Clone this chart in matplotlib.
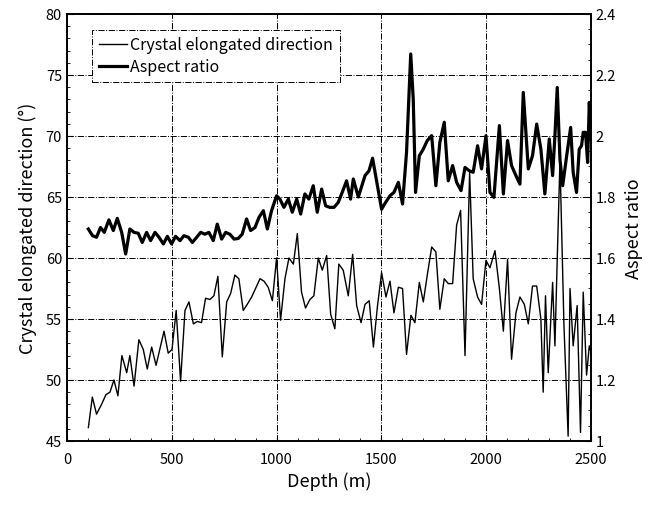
import matplotlib.pyplot as plt
from matplotlib.ticker import MultipleLocator

plt.rcParams['font.family'] = ['Noto Sans CJK JP', 'DejaVu Sans']

# Crystal elongated direction (deg) vs depth
dir_depth = [102, 121, 141, 165, 186, 205, 224, 243, 262, 285, 300, 320, 343, 364, 383, 404,
             425, 463, 483, 501, 521, 542, 563, 582, 603, 622, 642, 661, 682, 701, 720, 741,
             762, 781, 801, 820, 841, 860, 881, 921, 940, 960, 980, 1000, 1019, 1040, 1059,
             1080, 1099, 1119, 1138, 1159, 1178, 1199, 1218, 1239, 1258, 1278, 1297, 1318,
             1342, 1363, 1382, 1403, 1422, 1442, 1462, 1481, 1501, 1522, 1541, 1560, 1581,
             1601, 1620, 1641, 1660, 1681, 1700, 1719, 1740, 1760, 1779, 1800, 1819, 1840,
             1859, 1878, 1899, 1921, 1938, 1959, 1978, 1999, 2018, 2042, 2063, 2082, 2102,
             2121, 2142, 2161, 2182, 2201, 2221, 2241, 2261, 2272, 2283, 2296, 2317, 2328,
             2339, 2352, 2371, 2391, 2400, 2415, 2434, 2450, 2463, 2479, 2492, 2500]
dir_value = [46.1, 48.6, 47.2, 48.0, 48.8, 49.0, 50.0, 48.7, 52.0, 50.6, 52.0, 49.5, 53.3,
             52.5, 50.9, 52.7, 51.2, 54.0, 52.2, 52.5, 55.7, 49.9, 55.7, 56.4, 54.6, 54.8,
             54.7, 56.7, 56.6, 56.9, 58.5, 51.9, 56.4, 57.1, 58.6, 58.3, 55.7, 56.2, 56.8,
             58.3, 58.1, 57.6, 56.5, 60.0, 54.9, 58.3, 60.0, 59.5, 62.0, 57.2, 55.9, 56.6,
             56.9, 60.0, 59.0, 60.2, 55.4, 54.2, 59.5, 59.0, 56.9, 60.3, 56.1, 54.7, 56.2,
             56.5, 52.7, 56.0, 58.8, 56.8, 58.1, 55.5, 57.6, 57.5, 52.1, 55.3, 54.7, 58.0,
             56.4, 58.6, 60.9, 60.5, 55.8, 58.3, 57.9, 57.9, 62.7, 63.9, 52.0, 67.0, 58.3,
             56.8, 56.2, 59.8, 59.2, 60.6, 57.5, 54.0, 59.9, 51.7, 55.5, 56.8, 56.2, 54.6,
             57.7, 57.7, 55.0, 49.0, 56.9, 50.6, 58.0, 52.8, 59.9, 68.0, 54.5, 45.4, 57.5,
             52.8, 56.1, 45.7, 57.2, 50.4, 52.8, 52.3]

# Aspect ratio vs depth
ar_depth = [102, 122, 141, 160, 178, 200, 221, 240, 261, 280, 300, 320, 340, 359, 380, 399,
            420, 439, 460, 479, 499, 518, 539, 558, 579, 598, 619, 638, 658, 677, 698, 717,
            738, 757, 777, 797, 817, 836, 857, 876, 897, 916, 937, 956, 976, 1000, 1016,
            1035, 1056, 1075, 1096, 1115, 1135, 1154, 1175, 1194, 1215, 1234, 1254, 1274,
            1294, 1313, 1334, 1353, 1366, 1390, 1422, 1441, 1458, 1481, 1501, 1520, 1541,
            1560, 1581, 1601, 1620, 1640, 1652, 1663, 1681, 1700, 1719, 1740, 1760, 1779,
            1800, 1819, 1840, 1859, 1880, 1899, 1919, 1938, 1959, 1978, 1999, 2018, 2037,
            2063, 2082, 2102, 2121, 2142, 2161, 2177, 2201, 2221, 2241, 2261, 2280, 2301,
            2317, 2328, 2339, 2352, 2365, 2384, 2403, 2415, 2431, 2444, 2455, 2463, 2474,
            2484, 2492, 2500]
ar_value = [1.695, 1.673, 1.668, 1.700, 1.684, 1.725, 1.690, 1.730, 1.684, 1.613, 1.695,
            1.684, 1.681, 1.651, 1.684, 1.657, 1.684, 1.668, 1.646, 1.671, 1.646, 1.671,
            1.657, 1.673, 1.668, 1.651, 1.668, 1.684, 1.678, 1.684, 1.657, 1.711, 1.662,
            1.684, 1.678, 1.662, 1.664, 1.678, 1.728, 1.690, 1.700, 1.733, 1.755, 1.695,
            1.755, 1.804, 1.793, 1.766, 1.793, 1.750, 1.793, 1.744, 1.810, 1.793, 1.837,
            1.750, 1.826, 1.771, 1.766, 1.766, 1.782, 1.815, 1.853, 1.793, 1.859, 1.800,
            1.870, 1.886, 1.927, 1.837, 1.760, 1.782, 1.804, 1.815, 1.848, 1.777, 1.946,
            2.269, 2.121, 1.815, 1.935, 1.957, 1.985, 2.001, 1.837, 1.979, 2.045, 1.853,
            1.903, 1.848, 1.821, 1.897, 1.886, 1.881, 1.968, 1.892, 2.001, 1.815, 1.799,
            2.034, 1.810, 1.985, 1.903, 1.870, 1.842, 2.143, 1.892, 1.935, 2.039, 1.957,
            1.810, 1.990, 1.870, 2.001, 2.159, 1.924, 1.837, 1.935, 2.028, 1.881, 1.815,
            1.957, 1.968, 2.012, 2.012, 1.913, 2.110, 1.990]

fig = plt.figure(figsize=(6.49, 5.06), dpi=100)
ax = fig.add_axes([0.1032, 0.1265, 0.8074, 0.8439])
ax2 = ax.twinx()

l1, = ax.plot(dir_depth, dir_value, color='black', linewidth=1.0)
l2, = ax2.plot(ar_depth, ar_value, color='black', linewidth=2.3)

ax.set_xlim(0, 2500)
ax.set_ylim(45, 80)
ax2.set_ylim(1, 2.4)

ax.xaxis.set_major_locator(MultipleLocator(500))
ax.xaxis.set_minor_locator(MultipleLocator(100))
ax.yaxis.set_major_locator(MultipleLocator(5))
ax.yaxis.set_minor_locator(MultipleLocator(1))
ax2.yaxis.set_major_locator(MultipleLocator(0.2))
ax2.yaxis.set_minor_locator(MultipleLocator(0.05))
ax2.yaxis.set_major_formatter(plt.FuncFormatter(lambda v, p: f"{v:g}"))

ax.grid(True, which='major', color='black', linestyle='-.', linewidth=0.7)

for a in (ax, ax2):
    a.tick_params(which='both', direction='in', labelsize=10.5, top=False)
    a.tick_params(which='major', length=4)
    a.tick_params(which='minor', length=2.5)
    for s in a.spines.values():
        s.set_linewidth(1.2)
ax.tick_params(axis='x', pad=8)

ax.set_xlabel("Depth (m)", fontsize=13)
ax.set_ylabel("Crystal elongated direction (°)", fontsize=13, labelpad=6)
ax2.set_ylabel("Aspect ratio", fontsize=13, labelpad=6)

leg = ax2.legend([l1, l2], ["Crystal elongated direction", "Aspect ratio"],
                 loc='upper left', bbox_to_anchor=(0.048, 0.9625), borderaxespad=0,
                 fontsize=11.5, handlelength=1.8, handletextpad=0.2, labelspacing=0.3,
                 fancybox=False, framealpha=1, edgecolor='black')
leg.get_frame().set_linestyle('-.')
leg.get_frame().set_linewidth(0.7)

fig.savefig('out.png', dpi=100)
